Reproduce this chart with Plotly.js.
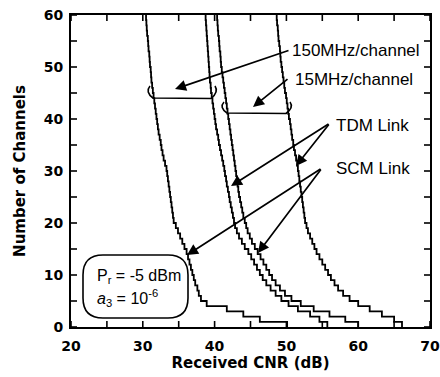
<!DOCTYPE html>
<html><head><meta charset="utf-8">
<script src="https://cdn.plot.ly/plotly-3.0.1.min.js"></script>
<style>html,body{margin:0;padding:0;background:#fff}#c{width:440px;height:377px}</style>
</head><body><div id="c"></div>
<script>
// Number of channels (y) for every curve, from 60 down to 0
const channels = [60,59,58,57,56,55,54,53,52,51,50,49,48,47,46,45,44,43,42,41,40,39,38,37,36,35,34,33,32,31,30,29,28,27,26,25,24,23,22,21,20,19,18,17,16,15,14,13,12,11,10,9,8,7,6,5,4,3,2,1,0];
// Received CNR (dB) where each channel level begins (last value = drop to 0)
const scm150 = [30.4,30.45,30.5,30.55,30.6,30.7,30.75,30.8,30.9,30.95,31.0,31.1,31.15,31.2,31.3,31.4,31.5,31.6,31.7,31.8,31.9,32.0,32.1,32.2,32.35,32.5,32.6,32.75,32.9,33.1,33.3,33.4,33.5,33.6,33.7,33.8,33.9,34.0,34.1,34.2,34.3,34.6,34.9,35.2,35.5,35.8,36.1,36.3,36.5,36.7,36.9,37.1,37.3,37.6,37.8,38.1,38.9,41.7,44.0,46.3,50.1];
const tdm150 = [38.7,38.75,38.8,38.85,38.9,38.95,39.0,39.05,39.1,39.15,39.2,39.25,39.3,39.35,39.45,39.5,39.6,39.7,39.8,39.9,40.0,40.1,40.2,40.35,40.5,40.6,40.75,40.9,41.05,41.2,41.35,41.45,41.6,41.7,41.85,42.0,42.1,42.25,42.4,42.55,42.7,42.85,43.1,43.4,43.8,44.2,44.7,45.1,45.5,45.9,46.3,46.7,47.2,47.8,48.5,49.3,50.3,51.6,53.3,54.6,55.7];
const scm15 = [40.3,40.35,40.4,40.45,40.5,40.6,40.65,40.7,40.8,40.85,40.9,41.0,41.1,41.2,41.3,41.4,41.5,41.6,41.7,41.8,41.9,42.0,42.1,42.2,42.3,42.4,42.5,42.6,42.7,42.8,42.9,43.0,43.1,43.2,43.3,43.4,43.55,43.7,43.85,44.0,44.2,44.4,44.6,44.9,45.2,45.6,46.0,46.4,46.8,47.2,47.6,48.0,48.5,49.1,49.8,50.7,52.0,53.8,56.0,58.2,60.0];
const tdm15 = [48.6,48.65,48.7,48.8,48.85,48.9,49.0,49.1,49.15,49.2,49.3,49.4,49.5,49.6,49.7,49.8,49.95,50.05,50.15,50.25,50.35,50.5,50.6,50.7,50.8,50.95,51.05,51.2,51.35,51.5,51.6,51.7,51.8,51.9,52.0,52.1,52.2,52.3,52.4,52.5,52.6,52.8,53.0,53.3,53.6,53.9,54.2,54.6,55.0,55.4,55.8,56.2,56.7,57.2,57.9,58.8,60.0,61.6,63.3,65.0,66.1];
// tick positions every 5, labels only on the tens
const xTickVals = [20,25,30,35,40,45,50,55,60,65,70];
const xTickText = ['20','','30','','40','','50','','60','','70'];
const yTickVals = [0,5,10,15,20,25,30,35,40,45,50,55,60];
const yTickText = ['0','','10','','20','','30','','40','','50','','60'];

const L=71, R=10, T=15, B=50, W=440, H=377;
const pw=W-L-R, ph=H-T-B;
function dx(px){return 20+(px-L)*50/pw;}
function dy(py){return (H-B-py)*60/ph;}
const uX=50/pw, uY=60/ph; // data units per pixel

const ln={color:'#000',width:1.8,shape:'hv'};
const data=[scm150,tdm150,scm15,tdm15].map(s=>({x:s,y:channels,type:'scatter',mode:'lines',line:ln,hoverinfo:'skip',showlegend:false}));

function brace(x1,x2,yt,yb){
  const p=`M ${dx(x1+4)},${dy(yt)} Q ${dx(x1-1)},${dy((yt+yb)/2)} ${dx(x1+7)},${dy(yb)} L ${dx(x2-7)},${dy(yb+0.5)} Q ${dx(x2+1)},${dy((yt+yb)/2)} ${dx(x2-3)},${dy(yt)}`;
  return {type:'path',xref:'x',yref:'y',path:p,line:{color:'#000',width:1.6}};
}
function rbox(x1,x2,y1,y2,r){
  const p=`M ${dx(x1+r)},${dy(y1)} L ${dx(x2-r)},${dy(y1)} Q ${dx(x2)},${dy(y1)} ${dx(x2)},${dy(y1+r)} L ${dx(x2)},${dy(y2-r)} Q ${dx(x2)},${dy(y2)} ${dx(x2-r)},${dy(y2)} L ${dx(x1+r)},${dy(y2)} Q ${dx(x1)},${dy(y2)} ${dx(x1)},${dy(y2-r)} L ${dx(x1)},${dy(y1+r)} Q ${dx(x1)},${dy(y1)} ${dx(x1+r)},${dy(y1)} Z`;
  return {type:'path',xref:'x',yref:'y',path:p,line:{color:'#000',width:1.6}};
}
function arrow(hx,hy,tx,ty){
  return {x:dx(hx),y:dy(hy),xref:'x',yref:'y',text:'',showarrow:true,ax:tx-hx,ay:ty-hy,arrowhead:2,arrowsize:1.3,arrowwidth:1.7,arrowcolor:'#000',standoff:0,startstandoff:0};
}
function label(px,py,txt,size){
  return {x:dx(px),y:dy(py),xref:'x',yref:'y',text:txt,showarrow:false,xanchor:'left',yanchor:'middle',font:{family:'Liberation Sans, Arial, sans-serif',size:size||17,color:'#000'}};
}
const annotations=[
  label(290,50,'150MHz/channel'),
  label(293,79,'15MHz/channel'),
  label(334,125,'TDM Link'),
  label(334,168,'SCM Link'),
  label(95,276,'P<sub>r</sub> = -5 dBm',16),
  label(95,298,'<i>a</i><sub>3</sub> = 10<sup>-6</sup>',16),
  arrow(175,89,290,50),
  arrow(253,107,289,78),
  arrow(231,186,330,123),
  arrow(296,166,330,123),
  arrow(187,255,322,168),
  arrow(258,253,322,168)
];
const shapes=[brace(146,218,86,98),brace(220,293,102,113),rbox(83,188,255,318,20)];
// inside tick marks on all four sides, 6 px long
const tk={color:'#000',width:1.6};
const tl=6;
xTickVals.forEach(v=>{
  shapes.push({type:'line',xref:'x',yref:'y',x0:v,x1:v,y0:0,y1:tl*uY,line:tk});
  shapes.push({type:'line',xref:'x',yref:'y',x0:v,x1:v,y0:60,y1:60-tl*uY,line:tk});
});
yTickVals.forEach(v=>{
  shapes.push({type:'line',xref:'x',yref:'y',y0:v,y1:v,x0:20,x1:20+tl*uX,line:tk});
  shapes.push({type:'line',xref:'x',yref:'y',y0:v,y1:v,x0:70,x1:70-tl*uX,line:tk});
});

const tf={family:'DejaVu Sans, sans-serif',size:14,color:'#000',weight:'bold'};
const axBase={showgrid:false,zeroline:false,showline:true,linecolor:'#000',linewidth:2,mirror:true,ticks:'',tickfont:tf,fixedrange:true,tickmode:'array'};
const layout={
  width:W,height:H,margin:{l:L,r:R,t:T,b:B},paper_bgcolor:'#fff',plot_bgcolor:'#fff',
  xaxis:Object.assign({},axBase,{range:[20,70],tickvals:xTickVals,ticktext:xTickText,ticklabelstandoff:5,
    title:{text:'Received CNR (dB)',font:{family:'DejaVu Sans, sans-serif',size:15,color:'#000',weight:'bold'},standoff:5}}),
  yaxis:Object.assign({},axBase,{range:[0,60],tickvals:yTickVals,ticktext:yTickText,ticklabelstandoff:3,
    title:{text:'Number of Channels',font:{family:'DejaVu Sans, sans-serif',size:15,color:'#000',weight:'bold'},standoff:14}}),
  annotations:annotations,shapes:shapes,showlegend:false
};
Plotly.newPlot('c',data,layout,{staticPlot:true,displayModeBar:false});
</script></body></html>
